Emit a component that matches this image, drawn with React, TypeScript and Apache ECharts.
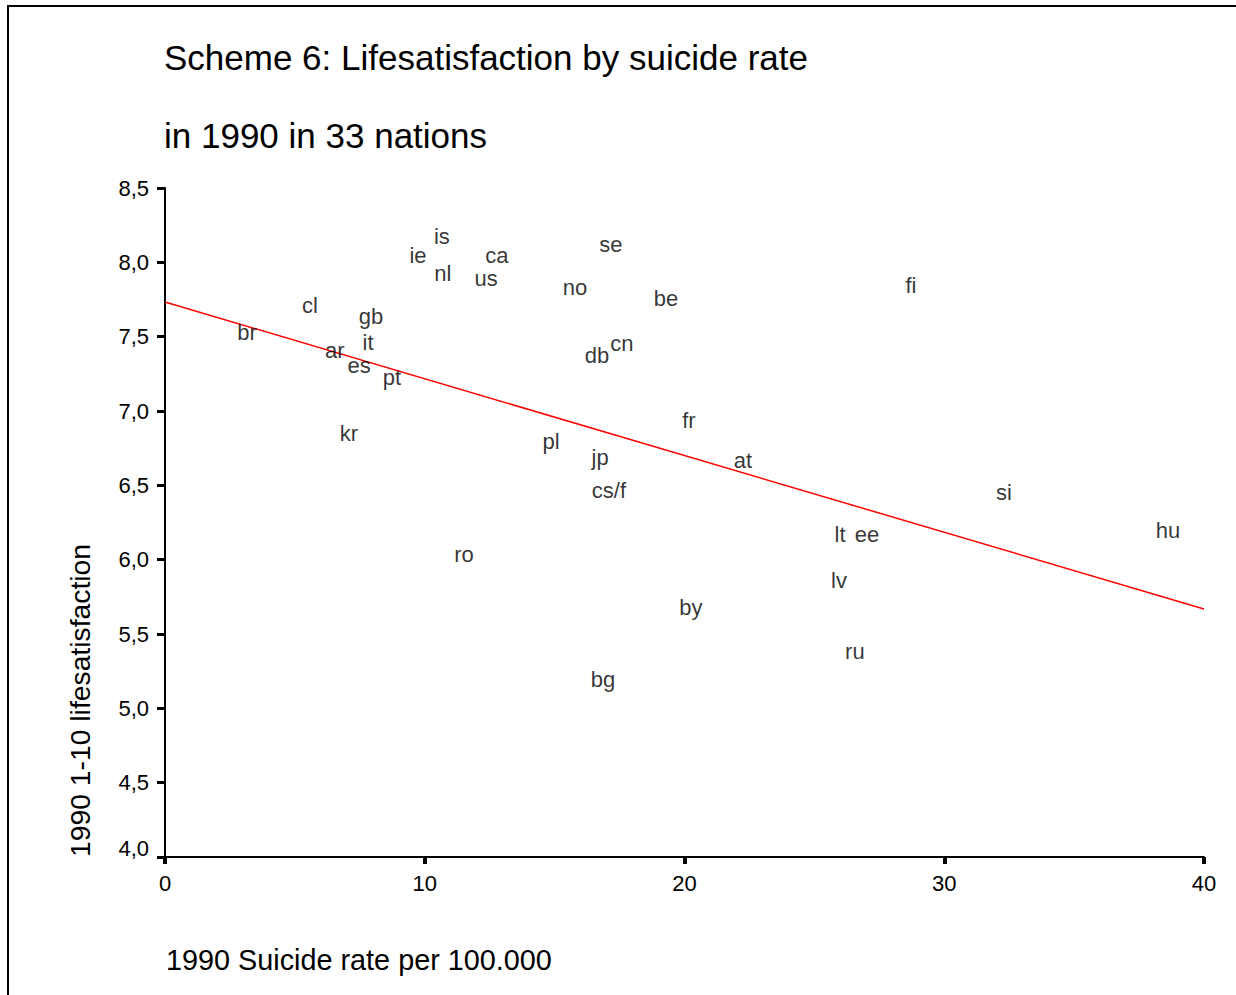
import React, { useEffect, useRef } from "react";
import * as echarts from "echarts";

const countries = [
  "is", "ie", "nl", "ca", "us", "se", "no", "be", "fi", "cl", "gb",
  "br", "it", "ar", "es", "pt", "db", "cn", "kr", "fr", "pl", "jp",
  "at", "cs/f", "si", "hu", "lt", "ee", "ro", "lv", "by", "ru", "bg",
];
const suicideRate = [
  10.66, 9.74, 10.7, 12.78, 12.36, 17.17, 15.78, 19.29, 28.72, 5.58, 7.93,
  3.16, 7.82, 6.54, 7.47, 8.74, 16.63, 17.59, 7.08, 20.17, 14.86, 16.75,
  22.25, 17.09, 32.3, 38.61, 25.99, 27.03, 11.51, 25.95, 20.25, 26.56, 16.86,
];
const lifeSatisfaction = [
  8.177, 8.043, 7.928, 8.049, 7.888, 8.123, 7.834, 7.76, 7.841, 7.713, 7.639,
  7.525, 7.464, 7.404, 7.309, 7.222, 7.37, 7.451, 6.852, 6.939, 6.798, 6.684,
  6.67, 6.462, 6.455, 6.193, 6.166, 6.166, 6.038, 5.863, 5.675, 5.379, 5.197,
];
const regressionX = [0, 40];
const regressionY = [7.733, 5.668];

const titleLines = ["Scheme 6: Lifesatisfaction by suicide rate", "in 1990 in 33 nations"];
const xAxisName = "1990 Suicide rate per 100.000";
const yAxisName = "1990 1-10 lifesatisfaction";

const FONT = "'Liberation Sans', Arial, sans-serif";

export default function App() {
  const ref = useRef<HTMLDivElement>(null);
  useEffect(() => {
    if (!ref.current) return;
    const chart = echarts.init(ref.current, undefined, { renderer: "svg" });
    const points = countries.map((c, i) => ({
      name: c,
      value: [suicideRate[i], lifeSatisfaction[i]],
    }));
    const line = regressionX.map((x, i) => [x, regressionY[i]]);
    chart.setOption({
      animation: false,
      backgroundColor: "#ffffff",
      textStyle: { fontFamily: FONT },
      title: {
        text: titleLines.join("\n"),
        left: 164,
        top: 18,
        padding: 0,
        textStyle: {
          fontFamily: FONT,
          fontSize: 35,
          fontWeight: "normal",
          color: "#000",
          lineHeight: 78,
        },
      },
      grid: { left: 165, right: 32, top: 188, bottom: 138, containLabel: false },
      xAxis: {
        type: "value",
        min: 0,
        max: 40,
        interval: 10,
        splitLine: { show: false },
        axisLine: { show: true, onZero: false, lineStyle: { color: "#000", width: 2 } },
        axisTick: { show: true, length: 7, lineStyle: { color: "#000", width: 4 } },
        axisLabel: { color: "#000", fontSize: 22, fontFamily: FONT, margin: 15 },
      },
      yAxis: {
        type: "value",
        min: 4,
        max: 8.5,
        interval: 0.5,
        splitLine: { show: false },
        axisLine: { show: true, onZero: false, lineStyle: { color: "#000", width: 2 } },
        axisTick: { show: true, length: 8, lineStyle: { color: "#000", width: 3 } },
        axisLabel: {
          color: "#000",
          fontSize: 22,
          fontFamily: FONT,
          margin: 16,
          formatter: (v: number) => {
            const s = v.toFixed(1).replace(".", ",");
            return v === 4 ? "{low|" + s + "}" : s;
          },
          rich: {
            low: {
              color: "#000",
              fontSize: 22,
              fontFamily: FONT,
              padding: [0, 0, 18, 0],
            },
          },
        },
      },
      graphic: [
        {
          type: "rect",
          silent: true,
          shape: { x: 8, y: 6, width: 1400, height: 1200 },
          style: { fill: "none", stroke: "#000", lineWidth: 2 },
        },
        {
          type: "text",
          x: 166,
          y: 960,
          style: {
            text: xAxisName,
            fontFamily: FONT,
            fontSize: 28.8,
            fill: "#000",
            textAlign: "left",
            textVerticalAlign: "middle",
          },
        },
        {
          type: "text",
          x: 80,
          y: 857,
          rotation: Math.PI / 2,
          style: {
            text: yAxisName,
            fontFamily: FONT,
            fontSize: 28.3,
            fill: "#000",
            textAlign: "left",
            textVerticalAlign: "middle",
          },
        },
      ],
      series: [
        {
          type: "line",
          data: line,
          symbol: "none",
          lineStyle: { color: "#ff0000", width: 1.5 },
          z: 1,
        },
        {
          type: "scatter",
          data: points,
          symbolSize: 1,
          itemStyle: { color: "rgba(0,0,0,0)" },
          label: {
            show: true,
            position: "inside",
            formatter: "{b}",
            color: "#000",
            fontSize: 22,
            fontFamily: FONT,
          },
          z: 2,
        },
      ],
    });
    return () => chart.dispose();
  }, []);
  return (
    <div
      ref={ref}
      style={{ position: "fixed", left: 0, top: 0, width: 1236, height: 995 }}
    />
  );
}
